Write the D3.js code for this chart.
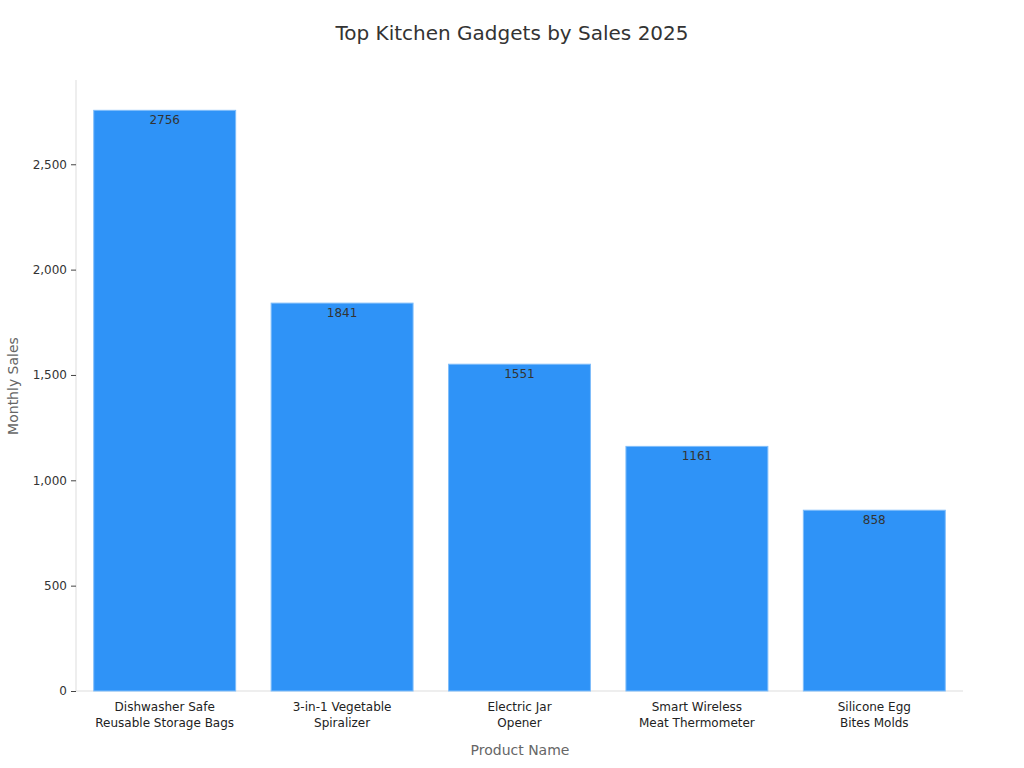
<!DOCTYPE html>
<html><head><meta charset="utf-8">
<script src="https://cdn.jsdelivr.net/npm/d3@7"></script>
<style>body{margin:0;background:#fff;font-family:"DejaVu Sans",sans-serif;}</style>
</head><body><svg id="c" width="1024" height="768"></svg>
<script>
const categories = [["Dishwasher Safe","Reusable Storage Bags"],["3-in-1 Vegetable","Spiralizer"],["Electric Jar","Opener"],["Smart Wireless","Meat Thermometer"],["Silicone Egg","Bites Molds"]];
const sales = [2756,1841,1551,1161,858];
const yTicks = [0,500,1000,1500,2000,2500];

const svg = d3.select("#c");
const m = {l:76, r:963, t:80, b:691};
const x = d3.scaleBand().domain(d3.range(categories.length)).range([m.l, m.r]).paddingInner(0.2).paddingOuter(0.1);
const y = d3.scaleLinear().domain([0, 2900]).range([m.b, m.t]);

svg.append("text").attr("x",512).attr("y",40).attr("text-anchor","middle")
  .attr("font-size",20).attr("fill","#333").text("Top Kitchen Gadgets by Sales 2025");

const ya = svg.append("g").attr("transform",`translate(${m.l},0)`)
  .call(d3.axisLeft(y).tickValues(yTicks).tickSize(5).tickPadding(4));
ya.select(".domain").attr("stroke","#ddd").attr("d",`M0,${m.b}V${m.t}`);
ya.selectAll(".tick line").attr("stroke","#444");
ya.selectAll(".tick text").attr("font-size",12).attr("fill","#333").attr("font-family","DejaVu Sans");

const xa = svg.append("g").attr("transform",`translate(0,${m.b})`)
  .call(d3.axisBottom(x).tickSize(0).tickFormat(""));
xa.select(".domain").attr("stroke","#ddd").attr("d",`M${m.l},0H${m.r}`);
xa.selectAll(".tick").each(function(d){
  const t = d3.select(this).append("text").attr("fill","#222").attr("font-size",12)
    .attr("text-anchor","middle").attr("font-family","DejaVu Sans");
  categories[d].forEach((s,i)=>t.append("tspan").attr("x",0).attr("y",20+i*16).text(s));
});

svg.selectAll("rect.bar").data(sales).enter().append("rect")
  .attr("x",(d,i)=>x(i)).attr("width",x.bandwidth())
  .attr("y",d=>y(d)).attr("height",d=>m.b-y(d))
  .attr("fill","#2f93f7").attr("stroke","#7fbdfa").attr("stroke-width",1);

svg.selectAll("text.lbl").data(sales).enter().append("text")
  .attr("x",(d,i)=>x(i)+x.bandwidth()/2).attr("y",d=>y(d)+14)
  .attr("text-anchor","middle").attr("font-size",12).attr("fill","#333").text(d=>d);

svg.append("text").attr("x",520).attr("y",755).attr("text-anchor","middle")
  .attr("font-size",14).attr("fill","#666").text("Product Name");
svg.append("text").attr("transform","translate(18,386) rotate(-90)").attr("text-anchor","middle")
  .attr("font-size",14).attr("fill","#666").text("Monthly Sales");
</script></body></html>
